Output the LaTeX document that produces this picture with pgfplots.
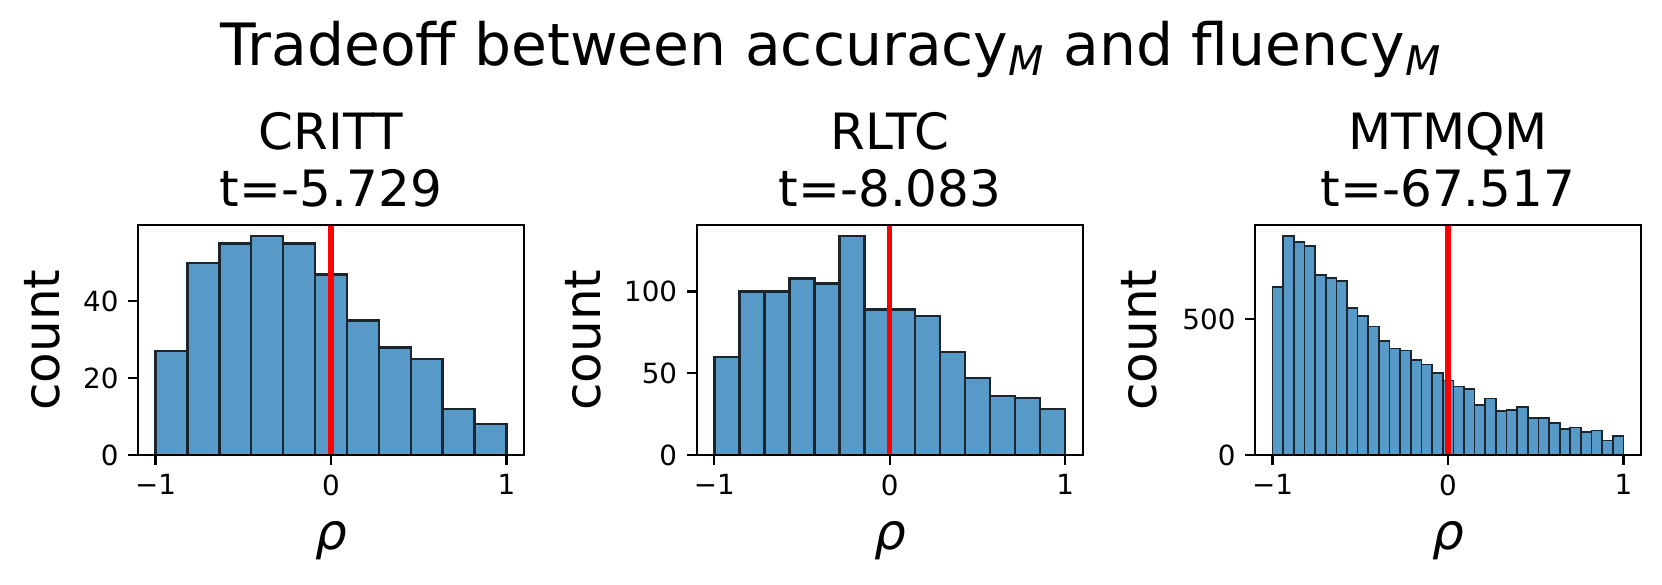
\documentclass[border=0pt]{standalone}
\usepackage{fontspec}
\setmainfont{DejaVu Sans}
\usepackage{pgfplots}
\pgfplotsset{compat=1.18}
\definecolor{barfill}{RGB}{87,153,199}
\definecolor{baredge}{RGB}{28,36,44}

\pgfplotsset{histax/.style={
  scale only axis, width=138.96pt, height=82.8pt,
  anchor=south west,
  xmin=-1.1, xmax=1.1, ymin=0,
  xtick={-1,0,1}, xticklabels={−1,0,1},
  tick align=outside, major tick length=3.5pt, tick pos=left,
  axis line style={line width=0.8pt},
  every tick/.style={black, line width=0.8pt},
  tick label style={font=\fontsize{10}{12}\selectfont},
  axis on top,
}}

\begin{document}
\begin{tikzpicture}
\useasboundingbox (0,0) rectangle (598.32pt,210.6pt);

% CRITT
\begin{axis}[histax, at={(49.68pt,46.8pt)}, ymax=59.85,
  ytick={0,20,40}, yticklabels={0,20,40}]
\addplot[ybar interval, fill=barfill, draw=baredge, line width=0.9pt] coordinates {
(-1,27) (-0.81818,50) (-0.63636,55) (-0.45455,57) (-0.27273,55) (-0.09091,47)
(0.09091,35) (0.27273,28) (0.45455,25) (0.63636,12) (0.81818,8) (1,8)};
\addplot[red, line width=2pt] coordinates {(0,0) (0,59.85)};
\end{axis}

% RLTC
\begin{axis}[histax, at={(250.81pt,46.8pt)}, ymax=140.7,
  ytick={0,50,100}, yticklabels={0,50,100}]
\addplot[ybar interval, fill=barfill, draw=baredge, line width=0.9pt] coordinates {
(-1,60) (-0.85714,100) (-0.71429,100) (-0.57143,108) (-0.42857,105) (-0.28571,134)
(-0.14286,89) (0,89) (0.14286,85) (0.28571,63) (0.42857,47) (0.57143,36)
(0.71429,35) (0.85714,28) (1,28)};
\addplot[red, line width=2pt] coordinates {(0,0) (0,140.7)};
\end{axis}

% MTMQM
\begin{axis}[histax, at={(451.8pt,46.8pt)}, ymax=847.4,
  ytick={0,500}, yticklabels={0,500}]
\addplot[ybar interval, fill=barfill, draw=baredge, line width=0.6pt] coordinates {
(-1,618) (-0.93939,807) (-0.87879,785) (-0.81818,771) (-0.75758,662) (-0.69697,651)
(-0.63636,641) (-0.57576,542) (-0.51515,511) (-0.45455,473) (-0.39394,421)
(-0.33333,392) (-0.27273,385) (-0.21212,349) (-0.15152,333) (-0.09091,303)
(-0.03030,275) (0.03030,252) (0.09091,243) (0.15152,183) (0.21212,208)
(0.27273,163) (0.33333,165) (0.39394,177) (0.45455,136) (0.51515,136)
(0.57576,119) (0.63636,95) (0.69697,101) (0.75758,85) (0.81818,90)
(0.87879,53) (0.93939,70) (1,70)};
\addplot[red, line width=2pt] coordinates {(0,0) (0,847.4)};
\end{axis}

% titles and labels
\node[anchor=base, font=\fontsize{21}{25}\selectfont] at (299.16pt,186.84pt)
  {Tradeoff between accuracy\textsubscript{\itshape M} and fluency\textsubscript{\itshape M}};

\node[anchor=base, font=\fontsize{18}{21}\selectfont] at (119.16pt,156.85pt) {CRITT};
\node[anchor=base, font=\fontsize{18}{21}\selectfont] at (119.16pt,136.19pt) {t=-5.729};
\node[anchor=base, font=\fontsize{18}{21}\selectfont] at (320.4pt,156.85pt) {RLTC};
\node[anchor=base, font=\fontsize{18}{21}\selectfont] at (320.4pt,136.19pt) {t=-8.083};
\node[anchor=base, font=\fontsize{18}{21}\selectfont] at (521.28pt,156.85pt) {MTMQM};
\node[anchor=base, font=\fontsize{18}{21}\selectfont] at (521.28pt,136.19pt) {t=-67.517};

\node[anchor=base, rotate=90, font=\fontsize{18}{21}\selectfont] at (21.6pt,88.2pt) {count};
\node[anchor=base, rotate=90, font=\fontsize{18}{21}\selectfont] at (216pt,88.2pt) {count};
\node[anchor=base, rotate=90, font=\fontsize{18}{21}\selectfont] at (416.4pt,88.2pt) {count};

\node[anchor=base, font=\fontsize{18}{21}\selectfont\itshape] at (119.16pt,12.6pt) {ρ};
\node[anchor=base, font=\fontsize{18}{21}\selectfont\itshape] at (320.4pt,12.6pt) {ρ};
\node[anchor=base, font=\fontsize{18}{21}\selectfont\itshape] at (521.28pt,12.6pt) {ρ};
\end{tikzpicture}
\end{document}
